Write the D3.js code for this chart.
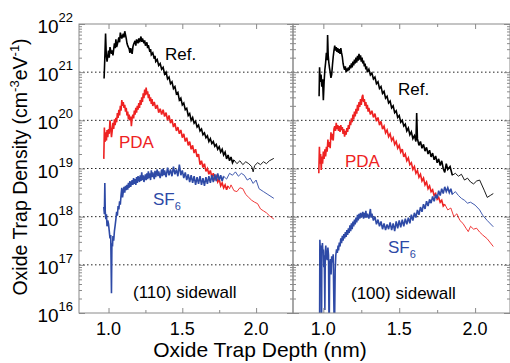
<!DOCTYPE html>
<html><head><meta charset="utf-8">
<script src="https://cdn.jsdelivr.net/npm/d3@7"></script>
<style>
body{margin:0;background:#fff}
svg{display:block}
text{font-family:"Liberation Sans",Arial,Helvetica,sans-serif}
</style>
</head><body>
<svg id="chart" width="510" height="363"></svg>
<script>
// ---------- DATA (x = oxide trap depth in nm, value = log10 of trap density in cm^-3 eV^-1) ----------
const yTickValues = [1e16, 1e17, 1e18, 1e19, 1e20, 1e21, 1e22];
const yTickExponents = ["16", "17", "18", "19", "20", "21", "22"];
const gridValues = [1e17, 1e18, 1e19, 1e20, 1e21];
const xTickValues = [1.0, 1.5, 2.0];
const xTickLabels = ["1.0", "1.5", "2.0"];
const xMinorTicks = [1.25, 1.75, 2.25];

// (110) sidewall
const ref110 = [[0.97,20.87],[0.975,21.30],[0.98,21.80],[0.985,21.35],[0.99,21.22],[1.00,21.45],[1.005,21.30],[1.01,21.52],[1.02,21.38],[1.025,21.45],[1.03,21.35],[1.04,21.60],[1.045,21.50],[1.05,21.68],[1.055,21.52],[1.06,21.58],[1.07,21.72],[1.075,21.62],[1.08,21.82],[1.09,21.70],[1.10,21.80],[1.105,21.72],[1.11,21.85],[1.12,21.70],[1.125,21.60],[1.13,21.55],[1.14,21.48],[1.145,21.40],[1.15,21.50],[1.16,21.38],[1.165,21.52],[1.17,21.58],[1.18,21.65],[1.185,21.55],[1.19,21.68],[1.20,21.60],[1.205,21.70],[1.21,21.62],[1.22,21.74],[1.225,21.63],[1.23,21.70],[1.24,21.60],[1.245,21.66],[1.25,21.55],[1.26,21.62],[1.265,21.50],[1.27,21.56],[1.28,21.42],[1.285,21.48],[1.29,21.36],[1.30,21.40],[1.31,21.28],[1.315,21.34],[1.32,21.22],[1.33,21.26],[1.34,21.14],[1.35,21.18],[1.36,21.06],[1.37,21.10],[1.38,20.96],[1.39,21.00],[1.40,20.86],[1.41,20.90],[1.42,20.76],[1.43,20.80],[1.44,20.66],[1.45,20.70],[1.46,20.55],[1.47,20.58],[1.48,20.42],[1.49,20.46],[1.50,20.32],[1.51,20.36],[1.52,20.22],[1.53,20.25],[1.54,20.10],[1.55,20.14],[1.56,20.00],[1.57,20.06],[1.58,19.94],[1.59,19.98],[1.60,19.86],[1.61,19.90],[1.62,19.78],[1.63,19.82],[1.64,19.70],[1.65,19.74],[1.66,19.64],[1.67,19.68],[1.68,19.56],[1.69,19.62],[1.70,19.52],[1.71,19.56],[1.72,19.46],[1.73,19.50],[1.74,19.40],[1.75,19.45],[1.76,19.34],[1.77,19.40],[1.78,19.28],[1.79,19.34],[1.80,19.20],[1.81,19.28],[1.82,19.16],[1.83,19.24],[1.84,19.12],[1.85,19.18],[1.87,19.10],[1.89,19.16],[1.91,19.08],[1.93,19.14],[1.95,19.10],[1.97,19.04],[1.98,18.93],[1.99,19.06],[2.01,19.12],[2.03,19.08],[2.05,19.14],[2.07,19.10],[2.09,19.16],[2.12,19.21]];

const pda110 = [[0.968,19.20],[0.972,19.85],[0.976,19.55],[0.98,19.75],[0.986,19.58],[0.99,19.80],[0.995,19.65],[1.00,19.82],[1.005,19.72],[1.01,20.00],[1.015,19.85],[1.02,19.65],[1.025,19.78],[1.03,19.95],[1.035,19.82],[1.04,20.02],[1.045,19.90],[1.05,20.05],[1.055,19.96],[1.06,20.15],[1.065,20.05],[1.07,20.22],[1.075,20.10],[1.08,20.30],[1.085,20.20],[1.09,20.42],[1.095,20.30],[1.10,20.38],[1.105,20.26],[1.11,20.32],[1.115,20.18],[1.12,20.26],[1.125,20.10],[1.13,20.18],[1.135,20.02],[1.14,20.12],[1.145,20.00],[1.15,20.08],[1.155,19.88],[1.16,20.05],[1.165,20.12],[1.17,20.04],[1.175,20.20],[1.18,20.12],[1.185,20.26],[1.19,20.16],[1.195,20.30],[1.20,20.22],[1.205,20.36],[1.21,20.26],[1.215,20.42],[1.22,20.32],[1.225,20.48],[1.23,20.38],[1.235,20.56],[1.24,20.46],[1.245,20.64],[1.25,20.52],[1.255,20.68],[1.26,20.54],[1.265,20.60],[1.27,20.46],[1.275,20.54],[1.28,20.40],[1.285,20.48],[1.29,20.34],[1.295,20.44],[1.30,20.30],[1.31,20.38],[1.32,20.24],[1.33,20.32],[1.34,20.16],[1.35,20.24],[1.36,20.12],[1.37,20.22],[1.38,20.08],[1.39,20.16],[1.40,20.00],[1.41,20.10],[1.42,19.94],[1.43,20.02],[1.44,19.86],[1.45,19.94],[1.46,19.78],[1.47,19.86],[1.48,19.72],[1.49,19.80],[1.50,19.64],[1.51,19.72],[1.52,19.56],[1.53,19.64],[1.54,19.48],[1.55,19.56],[1.56,19.40],[1.57,19.48],[1.58,19.32],[1.59,19.40],[1.60,19.24],[1.61,19.30],[1.62,19.08],[1.63,19.16],[1.64,19.02],[1.65,19.10],[1.66,18.94],[1.67,19.00],[1.68,18.88],[1.69,18.96],[1.70,18.82],[1.71,18.90],[1.72,18.78],[1.73,18.84],[1.74,18.72],[1.75,18.78],[1.76,18.64],[1.77,18.70],[1.78,18.60],[1.79,18.66],[1.80,18.56],[1.81,18.64],[1.82,18.58],[1.83,18.66],[1.85,18.54],[1.87,18.52],[1.89,18.60],[1.91,18.58],[1.93,18.46],[1.95,18.40],[1.97,18.34],[1.99,18.30],[2.01,18.27],[2.03,18.16],[2.05,18.12],[2.07,18.08],[2.09,18.02],[2.12,17.95]];

const sf6110 = [[0.968,18.20],[0.972,18.05],[0.975,18.70],[0.978,18.10],[0.982,17.95],[0.986,18.05],[0.99,17.80],[0.995,17.92],[1.00,17.85],[1.005,17.70],[1.01,17.55],[1.015,17.62],[1.02,16.41],[1.023,17.45],[1.027,17.38],[1.03,17.60],[1.035,17.50],[1.04,17.70],[1.045,17.82],[1.05,17.95],[1.055,18.10],[1.06,18.02],[1.065,18.22],[1.07,18.15],[1.075,18.32],[1.08,18.25],[1.085,18.45],[1.09,18.60],[1.095,18.40],[1.10,18.52],[1.105,18.62],[1.11,18.50],[1.115,18.64],[1.12,18.55],[1.125,18.66],[1.13,18.56],[1.135,18.70],[1.14,18.60],[1.145,18.74],[1.15,18.62],[1.16,18.76],[1.165,18.66],[1.17,18.80],[1.175,18.68],[1.18,18.78],[1.185,18.66],[1.19,18.82],[1.195,18.70],[1.20,18.84],[1.21,18.72],[1.215,18.86],[1.22,18.74],[1.225,18.92],[1.23,18.76],[1.235,18.86],[1.24,18.72],[1.25,18.88],[1.255,18.76],[1.26,18.90],[1.265,18.78],[1.27,18.94],[1.275,18.80],[1.28,18.90],[1.285,18.76],[1.29,18.96],[1.295,18.82],[1.30,18.92],[1.31,18.78],[1.315,18.95],[1.32,18.82],[1.33,18.98],[1.335,18.84],[1.34,18.94],[1.35,18.80],[1.36,18.98],[1.365,18.84],[1.37,19.00],[1.375,18.86],[1.38,18.96],[1.39,18.82],[1.40,19.02],[1.41,18.86],[1.42,18.98],[1.43,18.84],[1.44,19.04],[1.45,18.88],[1.46,18.98],[1.47,18.84],[1.48,19.08],[1.49,18.86],[1.50,18.96],[1.51,18.80],[1.52,18.92],[1.53,18.76],[1.54,18.88],[1.55,18.72],[1.56,18.86],[1.57,18.70],[1.58,18.84],[1.59,18.66],[1.60,18.82],[1.61,18.68],[1.62,18.84],[1.63,18.66],[1.64,18.80],[1.65,18.64],[1.66,18.82],[1.67,18.68],[1.68,18.84],[1.69,18.70],[1.70,18.86],[1.71,18.72],[1.72,18.88],[1.73,18.74],[1.74,18.90],[1.75,18.76],[1.76,18.86],[1.77,18.74],[1.78,18.84],[1.80,18.78],[1.82,18.90],[1.84,18.86],[1.86,18.93],[1.88,18.84],[1.90,18.90],[1.92,18.86],[1.94,18.76],[1.96,18.80],[1.98,18.69],[2.00,18.76],[2.02,18.58],[2.05,18.52],[2.08,18.46],[2.12,18.38]];

// (100) sidewall
const ref100 = [[0.972,20.50],[0.975,21.10],[0.98,20.80],[0.985,20.95],[0.99,20.70],[0.995,20.85],[1.00,20.42],[1.005,20.80],[1.01,21.05],[1.015,21.20],[1.02,21.40],[1.025,21.25],[1.028,21.77],[1.032,21.35],[1.036,21.20],[1.04,21.10],[1.045,21.00],[1.05,20.88],[1.055,20.95],[1.06,21.15],[1.065,21.32],[1.07,21.45],[1.075,21.55],[1.08,21.45],[1.085,21.52],[1.09,21.42],[1.095,21.50],[1.10,21.40],[1.105,21.48],[1.11,21.38],[1.115,21.50],[1.12,21.40],[1.125,21.32],[1.13,21.18],[1.135,21.10],[1.14,21.05],[1.145,21.12],[1.15,21.00],[1.155,21.08],[1.16,21.02],[1.165,21.10],[1.17,21.04],[1.175,21.14],[1.18,21.08],[1.185,21.18],[1.19,21.10],[1.195,21.22],[1.20,21.14],[1.205,21.26],[1.21,21.18],[1.215,21.30],[1.22,21.20],[1.225,21.34],[1.23,21.24],[1.235,21.38],[1.24,21.26],[1.245,21.35],[1.25,21.22],[1.255,21.30],[1.26,21.18],[1.265,21.24],[1.27,21.12],[1.275,21.18],[1.28,21.06],[1.285,21.12],[1.29,21.00],[1.30,21.06],[1.31,20.94],[1.32,20.98],[1.33,20.86],[1.34,20.90],[1.35,20.76],[1.36,20.80],[1.37,20.66],[1.38,20.70],[1.39,20.56],[1.40,20.60],[1.41,20.46],[1.42,20.50],[1.43,20.36],[1.44,20.40],[1.45,20.26],[1.46,20.30],[1.47,20.16],[1.48,20.20],[1.49,20.06],[1.50,20.10],[1.51,19.96],[1.52,20.00],[1.53,19.88],[1.54,19.92],[1.55,19.78],[1.56,19.84],[1.57,19.70],[1.58,19.76],[1.59,19.62],[1.60,19.68],[1.61,19.56],[1.615,20.15],[1.62,19.62],[1.63,19.48],[1.64,19.56],[1.65,19.42],[1.66,19.50],[1.67,19.36],[1.68,19.44],[1.69,19.30],[1.70,19.38],[1.71,19.24],[1.72,19.32],[1.73,19.18],[1.74,19.26],[1.75,19.12],[1.76,19.20],[1.77,19.06],[1.78,19.16],[1.79,19.00],[1.80,18.92],[1.81,19.10],[1.82,18.98],[1.835,19.04],[1.85,18.86],[1.87,18.90],[1.89,18.84],[1.91,18.88],[1.93,18.76],[1.95,18.80],[1.97,18.72],[1.99,18.68],[2.01,18.74],[2.03,18.76],[2.06,18.55],[2.08,18.40],[2.10,18.44],[2.12,18.48]];

const pda100 = [[0.970,18.90],[0.974,19.45],[0.978,19.10],[0.982,19.30],[0.986,18.97],[0.99,19.25],[0.995,19.10],[1.00,19.35],[1.005,19.20],[1.01,19.40],[1.015,19.25],[1.02,19.45],[1.025,19.35],[1.03,19.60],[1.035,19.45],[1.04,19.55],[1.045,19.42],[1.05,19.75],[1.055,19.60],[1.06,19.72],[1.065,19.58],[1.07,19.82],[1.075,19.88],[1.08,19.78],[1.085,19.95],[1.09,19.82],[1.095,19.90],[1.10,19.78],[1.105,19.88],[1.11,19.76],[1.115,19.90],[1.12,19.80],[1.125,19.86],[1.13,19.72],[1.135,19.82],[1.14,19.66],[1.145,19.78],[1.15,19.70],[1.155,19.84],[1.16,19.76],[1.165,19.90],[1.17,19.82],[1.175,19.98],[1.18,19.90],[1.185,20.04],[1.19,19.96],[1.195,20.12],[1.20,20.02],[1.205,20.18],[1.21,20.08],[1.215,20.24],[1.22,20.14],[1.225,20.32],[1.23,20.20],[1.235,20.38],[1.24,20.28],[1.245,20.44],[1.25,20.32],[1.255,20.48],[1.26,20.53],[1.265,20.38],[1.27,20.44],[1.275,20.30],[1.28,20.38],[1.285,20.24],[1.29,20.32],[1.295,20.18],[1.30,20.26],[1.31,20.12],[1.32,20.20],[1.33,20.06],[1.34,20.14],[1.35,19.98],[1.36,20.06],[1.37,19.90],[1.38,19.98],[1.39,19.82],[1.40,19.88],[1.41,19.74],[1.42,19.80],[1.43,19.66],[1.44,19.72],[1.45,19.58],[1.46,19.64],[1.47,19.50],[1.48,19.56],[1.49,19.42],[1.50,19.48],[1.51,19.34],[1.52,19.40],[1.53,19.24],[1.54,19.30],[1.55,19.16],[1.56,19.22],[1.57,19.08],[1.58,19.12],[1.59,18.98],[1.60,19.04],[1.61,18.90],[1.62,18.96],[1.63,18.82],[1.64,18.88],[1.65,18.74],[1.66,18.80],[1.67,18.66],[1.68,18.72],[1.69,18.58],[1.70,18.64],[1.71,18.52],[1.72,18.56],[1.73,18.44],[1.74,18.48],[1.75,18.36],[1.76,18.40],[1.77,18.30],[1.78,18.34],[1.79,18.22],[1.80,18.26],[1.82,18.14],[1.84,18.18],[1.86,18.00],[1.88,18.06],[1.90,17.92],[1.92,17.86],[1.94,17.76],[1.955,17.69],[1.97,17.80],[1.99,17.74],[2.01,17.76],[2.03,17.68],[2.05,17.62],[2.08,17.54],[2.12,17.38]];

const sf6100 = [[0.975,15.5],[0.977,17.52],[0.981,17.20],[0.984,17.40],[0.986,17.10],[0.988,15.5],[0.99,17.30],[0.994,17.45],[0.997,17.25],[1.00,17.32],[1.003,16.95],[1.006,17.20],[1.01,16.06],[1.013,17.25],[1.016,17.40],[1.02,17.20],[1.025,17.10],[1.03,17.36],[1.034,17.20],[1.038,15.5],[1.042,17.00],[1.047,17.12],[1.051,16.80],[1.055,17.18],[1.06,17.05],[1.065,17.22],[1.069,16.25],[1.073,15.5],[1.078,16.90],[1.082,17.20],[1.087,17.32],[1.092,17.25],[1.097,17.40],[1.10,17.30],[1.105,17.46],[1.11,17.38],[1.115,17.55],[1.12,17.45],[1.125,17.60],[1.13,17.50],[1.135,17.64],[1.14,17.55],[1.145,17.68],[1.15,17.58],[1.155,17.72],[1.16,17.62],[1.165,17.76],[1.17,17.66],[1.175,17.82],[1.18,17.70],[1.185,17.86],[1.19,17.74],[1.195,17.90],[1.20,17.80],[1.205,17.94],[1.21,17.84],[1.215,17.98],[1.22,17.88],[1.225,18.04],[1.23,17.92],[1.235,18.06],[1.24,17.96],[1.245,18.08],[1.25,17.98],[1.26,18.10],[1.265,17.96],[1.27,18.08],[1.275,17.98],[1.28,18.12],[1.285,17.98],[1.29,18.06],[1.30,17.96],[1.31,18.16],[1.315,17.98],[1.32,18.06],[1.33,17.92],[1.34,18.00],[1.35,17.84],[1.36,17.94],[1.37,17.80],[1.38,17.90],[1.39,17.74],[1.40,17.86],[1.41,17.72],[1.42,17.84],[1.43,17.74],[1.44,17.88],[1.45,17.72],[1.46,17.86],[1.47,17.70],[1.48,17.90],[1.49,17.76],[1.50,17.92],[1.51,17.78],[1.52,17.94],[1.53,17.80],[1.54,17.96],[1.55,17.84],[1.56,17.98],[1.57,17.86],[1.58,18.04],[1.59,17.92],[1.60,18.08],[1.61,17.98],[1.62,18.14],[1.63,18.04],[1.64,18.20],[1.65,18.10],[1.66,18.26],[1.67,18.16],[1.68,18.32],[1.69,18.22],[1.70,18.36],[1.71,18.28],[1.72,18.42],[1.73,18.32],[1.74,18.46],[1.75,18.38],[1.76,18.54],[1.77,18.44],[1.78,18.58],[1.79,18.48],[1.80,18.62],[1.81,18.52],[1.82,18.60],[1.83,18.50],[1.84,18.58],[1.85,18.46],[1.87,18.52],[1.89,18.44],[1.91,18.38],[1.93,18.34],[1.95,18.28],[1.97,18.30],[2.00,18.24],[2.03,18.14],[2.05,18.03],[2.08,17.92],[2.12,17.79]];

// ---------- LAYOUT / STYLE ----------
const colors = {ref: "#000000", pda: "#ee2222", sf6: "#2e4aa6"};
const plotTop = 24, plotBottom = 313;
const denseWidth = 1.6, tailWidth = 0.9;
const panels = [
  {id: "p110", x0: 79, x1: 293, domain: [0.8, 2.25], series: [ref110, pda110, sf6110], thinFrom: [1.85, 1.81, 1.78],
   labels: [{t: "Ref.", x: 165, y: 60, c: colors.ref}, {t: "PDA", x: 119, y: 148, c: colors.pda},
            {t: "SF", sub: "6", x: 153, y: 205, c: colors.sf6}, {t: "(110) sidewall", x: 133, y: 298, c: "#000"}]},
  {id: "p100", x0: 293, x1: 510, domain: [0.8, 2.23], series: [ref100, pda100, sf6100], thinFrom: [1.85, 1.80, 1.85],
   labels: [{t: "Ref.", x: 398, y: 95, c: colors.ref}, {t: "PDA", x: 345, y: 167, c: colors.pda},
            {t: "SF", sub: "6", x: 388, y: 253, c: colors.sf6}, {t: "(100) sidewall", x: 351, y: 299, c: "#000"}]}
];
const seriesColors = [colors.ref, colors.pda, colors.sf6];

const svg = d3.select("#chart");
const yScale = d3.scaleLog().domain([1e16, 1e22]).range([plotBottom, plotTop]);
const minorY = yScale.ticks().filter(v => !yTickValues.includes(v));
const frameColor = "#8a8a8a";

panels.forEach(p => {
  const x = d3.scaleLinear().domain(p.domain).range([p.x0, p.x1]);
  const g = svg.append("g");

  svg.append("clipPath").attr("id", "clip-" + p.id)
    .append("rect").attr("x", p.x0).attr("y", plotTop).attr("width", p.x1 - p.x0).attr("height", plotBottom - plotTop);

  g.selectAll("line.grid").data(gridValues).join("line")
    .attr("x1", p.x0).attr("x2", p.x1).attr("y1", d => yScale(d)).attr("y2", d => yScale(d))
    .attr("stroke", "#222").attr("stroke-width", 1).attr("stroke-dasharray", "1.5,2.5");

  const line = d3.line().x(d => x(d[0])).y(d => yScale(Math.pow(10, d[1])));
  const lg = g.append("g").attr("clip-path", "url(#clip-" + p.id + ")");
  p.series.forEach((s, i) => {
    const cut = p.thinFrom[i];
    const dense = s.filter(d => d[0] <= cut);
    const tail = s.filter(d => d[0] >= dense[dense.length - 1][0]);
    lg.append("path").datum(tail).attr("d", line).attr("fill", "none")
      .attr("stroke", seriesColors[i]).attr("stroke-width", tailWidth).attr("stroke-linejoin", "round");
    lg.append("path").datum(dense).attr("d", line).attr("fill", "none")
      .attr("stroke", seriesColors[i]).attr("stroke-width", denseWidth).attr("stroke-linejoin", "miter").attr("stroke-miterlimit", 3);
  });

  const yLeft = svg.append("g").attr("transform", `translate(${p.x0},0)`);
  yLeft.append("g").call(d3.axisRight(yScale).tickValues(yTickValues).tickSize(6).tickFormat(""));
  yLeft.append("g").call(d3.axisRight(yScale).tickValues(minorY).tickSize(3).tickFormat(""));
  const yRight = svg.append("g").attr("transform", `translate(${p.x1},0)`);
  yRight.append("g").call(d3.axisLeft(yScale).tickValues(yTickValues).tickSize(6).tickFormat(""));
  yRight.append("g").call(d3.axisLeft(yScale).tickValues(minorY).tickSize(3).tickFormat(""));

  const minors = xMinorTicks.filter(v => v < p.domain[1]);
  const xb = svg.append("g").attr("transform", `translate(0,${plotBottom})`);
  xb.append("g").call(d3.axisTop(x).tickValues(xTickValues).tickSize(5).tickFormat(""));
  xb.append("g").call(d3.axisTop(x).tickValues(minors).tickSize(3).tickFormat(""));
  const xt = svg.append("g").attr("transform", `translate(0,${plotTop})`);
  xt.append("g").call(d3.axisBottom(x).tickValues(xTickValues).tickSize(5).tickFormat(""));
  xt.append("g").call(d3.axisBottom(x).tickValues(minors).tickSize(3).tickFormat(""));

  svg.append("g").selectAll("text").data(xTickValues).join("text")
    .attr("x", d => x(d)).attr("y", 335).attr("text-anchor", "middle")
    .attr("font-size", 18).attr("fill", "#000")
    .text((d, i) => xTickLabels[i]);

  svg.append("rect").attr("x", p.x0).attr("y", plotTop).attr("width", p.x1 - p.x0).attr("height", plotBottom - plotTop)
    .attr("fill", "none").attr("stroke", frameColor).attr("stroke-width", 1);

  p.labels.forEach(l => {
    const t = svg.append("text").attr("x", l.x).attr("y", l.y).attr("font-size", 17).attr("fill", l.c).text(l.t);
    if (l.sub) t.append("tspan").attr("font-size", 11).attr("dy", 5).text(l.sub);
  });
});

svg.selectAll(".domain").remove();
svg.selectAll(".tick line").attr("stroke", frameColor);

const yLab = svg.append("g");
yTickValues.forEach((v, i) => {
  const t = yLab.append("text").attr("x", 73).attr("y", yScale(v) + 9).attr("text-anchor", "end")
    .attr("font-size", 19).attr("fill", "#000");
  t.append("tspan").text("10");
  t.append("tspan").attr("font-size", 13).attr("dy", -11).text(yTickExponents[i]);
});

const yt = svg.append("text").attr("transform", "translate(27,167) rotate(-90)")
  .attr("text-anchor", "middle").attr("font-size", 19.5).attr("fill", "#000");
yt.append("tspan").text("Oxide Trap Density (cm");
yt.append("tspan").attr("font-size", 13).attr("dy", -8).text("-3");
yt.append("tspan").attr("dy", 8).text("eV");
yt.append("tspan").attr("font-size", 13).attr("dy", -8).text("-1");
yt.append("tspan").attr("dy", 8).text(")");

svg.append("text").attr("x", 260).attr("y", 357).attr("text-anchor", "middle")
  .attr("font-size", 21).attr("fill", "#000").text("Oxide Trap Depth (nm)");
</script>
</body></html>
